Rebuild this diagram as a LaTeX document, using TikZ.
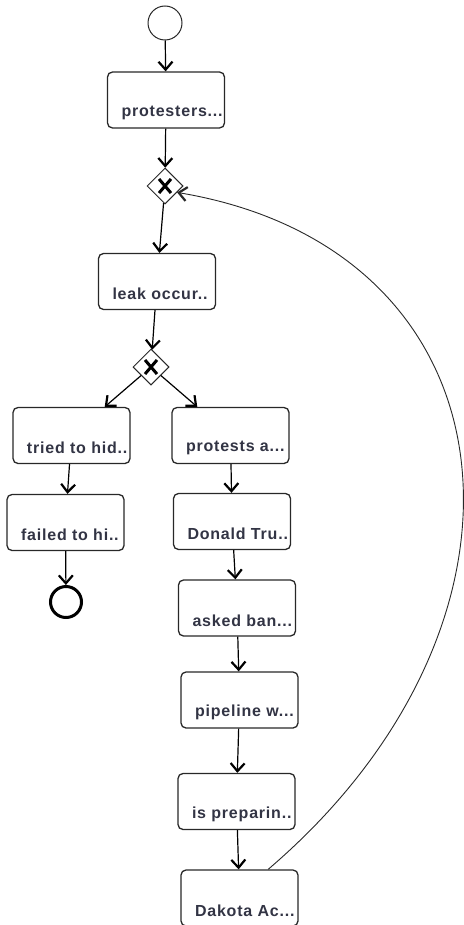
\documentclass[tikz,border=0pt]{standalone}
\usepackage{fontspec}
\setmainfont{Liberation Sans}
\usetikzlibrary{shapes.geometric,arrows.meta}
\definecolor{txtgray}{RGB}{50,52,68}
\definecolor{linegray}{RGB}{40,40,40}
\begin{document}
\begin{tikzpicture}[x=1pt,y=-1pt,
  every node/.style={line width=1.3pt,draw=linegray},
  task/.style={rectangle,rounded corners=5pt,minimum width=117pt,minimum height=56pt,inner sep=0pt},
  txt/.style={draw=none,anchor=west,xshift=14pt,yshift=16pt,inner sep=0pt,text=txtgray,
    font=\addfontfeature{LetterSpace=5}\fontsize{16}{19}\selectfont\bfseries},
  gate/.style={diamond,minimum size=36pt,inner sep=0pt,line width=1pt,
    path picture={\draw[line width=3pt,draw=black] ([shift={(-6pt,-7pt)}]path picture bounding box.center) -- ([shift={(6pt,7pt)}]path picture bounding box.center)
      ([shift={(-6pt,7pt)}]path picture bounding box.center) -- ([shift={(6pt,-7pt)}]path picture bounding box.center);}},
  flow/.style={draw=black,line width=1.2pt,-{Straight Barb[length=8pt,width=14pt,line width=2.2pt]}}]

\useasboundingbox (0,0) rectangle (463,925);

\node[circle,minimum size=34pt,inner sep=0pt,line width=1pt] (start) at (165,23) {};
\node[circle,minimum size=31pt,inner sep=0pt,line width=3pt,draw=black] (stop) at (66,602) {};

\node[task,label={[txt]south west:protesters...}] (protesters) at (166,100) {};
\node[gate] (g1) at (165,186) {};
\node[task,label={[txt]south west:leak occur..}] (leak) at (157,281.5) {};
\node[gate] (g2) at (151,367) {};

\node[task,label={[txt]south west:tried to hid..}] (tried) at (71.5,435.5) {};
\node[task,label={[txt]south west:failed to hi..}] (failed) at (65.5,522.5) {};

\node[task,label={[txt]south west:protests a...}] (protests) at (230.5,435.5) {};
\node[task,label={[txt]south west:Donald Tru..}] (donald) at (232,521.5) {};
\node[task,label={[txt]south west:asked ban...}] (asked) at (237,608) {};
\node[task,label={[txt]south west:pipeline w...}] (pipeline) at (239.5,700) {};
\node[task,label={[txt]south west:is preparin..}] (preparing) at (236.5,801.5) {};
\node[task,label={[txt]south west:Dakota Ac...}] (dakota) at (239.5,898) {};

\draw[flow] (start) -- (protesters);
\draw[flow] (protesters) -- (g1);
\draw[flow] (g1) -- (leak);
\draw[flow] (leak) -- (g2);
\draw[flow] (g2) -- (tried);
\draw[flow] (g2) -- (protests);
\draw[flow] (tried) -- (failed);
\draw[flow] (failed) -- (stop);
\draw[flow] (protests) -- (donald);
\draw[flow] (donald) -- (asked);
\draw[flow] (asked) -- (pipeline);
\draw[flow] (pipeline) -- (preparing);
\draw[flow] (preparing) -- (dakota);

\draw[flow,line width=0.9pt,draw=linegray] (dakota.45) .. controls (560,620) and (520,250) .. (g1.-28);

\end{tikzpicture}
\end{document}
